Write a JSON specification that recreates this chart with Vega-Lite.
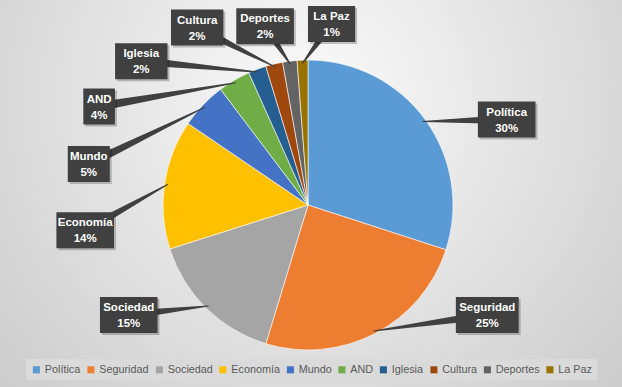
{
  "$schema": "https://vega.github.io/schema/vega-lite/v6.json",
  "width": 622,
  "height": 387,
  "padding": 0,
  "autosize": {"type": "none"},
  "background": "#d6d6d6",
  "config": {"view": {"stroke": null}},
  "data": {
    "values": [
      {"name": "Política", "value": 30.0},
      {"name": "Seguridad", "value": 24.7},
      {"name": "Sociedad", "value": 15.4},
      {"name": "Economía", "value": 14.4},
      {"name": "Mundo", "value": 5.2},
      {"name": "AND", "value": 3.6},
      {"name": "Iglesia", "value": 2.0},
      {"name": "Cultura", "value": 1.9},
      {"name": "Deportes", "value": 1.6},
      {"name": "La Paz", "value": 1.2}
    ]
  },
  "transform": [
    {"window": [{"op": "row_number", "as": "idx"}]},
    {"joinaggregate": [{"op": "sum", "field": "value", "as": "total"}]},
    {"window": [{"op": "sum", "field": "value", "as": "cum"}], "sort": [{"field": "idx"}]},
    {"calculate": "(datum.cum - datum.value) / datum.total", "as": "a0"},
    {"calculate": "datum.cum / datum.total", "as": "a1"},
    {"calculate": "datum.value < 10", "as": "small"},
    {"window": [{"op": "row_number", "as": "k"}], "groupby": ["small"], "sort": [{"field": "idx"}]},
    {"calculate": "2 * PI * (datum.cum - datum.value / 2) / datum.total", "as": "th"},
    {"calculate": "(datum.small ? 283 + 16.5 * (datum.k - 1) : min(datum.th * 180 / PI + 8, 262)) * PI / 180", "as": "phi"},
    {"calculate": "(datum.small && datum.k > 1 && datum.k < 5 ? 240 : 225) * sin(datum.phi)", "as": "X0"},
    {"calculate": "(datum.small && datum.k > 1 && datum.k < 5 ? 200 : 182) * cos(datum.phi)", "as": "Y0"},
    {"calculate": "clamp(datum.Y0, -110, 181)", "as": "ly"},
    {"calculate": "datum.ly == datum.Y0 ? datum.X0 : (datum.X0 < 0 ? -1 : 1) * 225 * sqrt(1 - pow(datum.ly / 182, 2))", "as": "lx"},
    {"calculate": "142 * sin(datum.th)", "as": "ex"},
    {"calculate": "142 * cos(datum.th)", "as": "ey"},
    {"calculate": "2.6 * length(datum.name) + 8", "as": "hw"},
    {"calculate": "datum.lx - datum.hw", "as": "bx1"},
    {"calculate": "datum.lx + datum.hw", "as": "bx2"},
    {"calculate": "datum.ly - 18", "as": "by1"},
    {"calculate": "datum.ly + 18", "as": "by2"},
    {"calculate": "datum.name + '\\n' + format(datum.value / 100, '.0%')", "as": "label"}
  ],
  "layer": [
    {
      "transform": [{"filter": "datum.idx == 1"}],
      "mark": {
        "type": "rect",
        "stroke": null,
        "fill": {
          "gradient": "radial",
          "x1": 0.5, "y1": 0.35, "r1": 0,
          "x2": 0.5, "y2": 0.35, "r2": 0.85,
          "stops": [
            {"offset": 0, "color": "#fbfbfb"},
            {"offset": 1, "color": "#c0c0c0"}
          ]
        }
      },
      "encoding": {}
    },
    {
      "mark": {"type": "arc", "outerRadius": 145, "stroke": "#ffffff", "strokeWidth": 0.6},
      "encoding": {
        "theta": {"field": "a0", "type": "quantitative", "stack": null, "scale": {"domain": [0, 1]}},
        "theta2": {"field": "a1"},
        "x": {"datum": 0, "type": "quantitative", "stack": null, "scale": {"domain": [-308, 314], "nice": false, "zero": false}, "axis": null},
        "y": {"datum": 0, "type": "quantitative", "stack": null, "scale": {"domain": [-182, 205], "nice": false, "zero": false}, "axis": null},
        "color": {
          "field": "name",
          "type": "nominal",
          "scale": {
            "domain": ["Política", "Seguridad", "Sociedad", "Economía", "Mundo", "AND", "Iglesia", "Cultura", "Deportes", "La Paz"],
            "range": ["#5B9BD5", "#ED7D31", "#A5A5A5", "#FFC000", "#4472C4", "#70AD47", "#255E91", "#9E480E", "#636363", "#997300"]
          },
          "legend": {
            "title": null,
            "orient": "none",
            "legendX": 26,
            "legendY": 359,
            "direction": "horizontal",
            "columns": 10,
            "symbolType": "square",
            "symbolSize": 50,
            "symbolStrokeWidth": 0,
            "labelFont": "Liberation Sans",
            "labelFontSize": 10.8,
            "labelColor": "#595959",
            "fillColor": "#dadada",
            "padding": 5,
            "columnPadding": 4.5,
            "labelOffset": 3
          }
        }
      }
    },
    {
      "transform": [
        {"fold": ["lx", "ex"], "as": ["end", "px"]},
        {"calculate": "datum.end == 'lx' ? datum.ly : datum.ey", "as": "py"},
        {"calculate": "datum.end == 'lx' ? 9 : 1", "as": "tw"}
      ],
      "mark": {"type": "trail", "color": "#404040"},
      "encoding": {
        "x": {"field": "px", "type": "quantitative", "scale": {"domain": [-308, 314], "nice": false, "zero": false}, "axis": null},
        "y": {"field": "py", "type": "quantitative", "scale": {"domain": [-182, 205], "nice": false, "zero": false}, "axis": null},
        "size": {"field": "tw", "type": "quantitative", "scale": null, "legend": null},
        "detail": {"field": "name", "type": "nominal"},
        "order": {"field": "end", "type": "nominal"}
      }
    },
    {
      "transform": [
        {"calculate": "datum.bx1 + 2", "as": "sx1"},
        {"calculate": "datum.bx2 + 2", "as": "sx2"},
        {"calculate": "datum.by1 - 2", "as": "sy1"},
        {"calculate": "datum.by2 - 2", "as": "sy2"}
      ],
      "mark": {"type": "rect", "color": "#000000", "opacity": 0.22},
      "encoding": {
        "x": {"field": "sx1", "type": "quantitative", "scale": {"domain": [-308, 314], "nice": false, "zero": false}, "axis": null},
        "x2": {"field": "sx2"},
        "y": {"field": "sy1", "type": "quantitative", "scale": {"domain": [-182, 205], "nice": false, "zero": false}, "axis": null},
        "y2": {"field": "sy2"}
      }
    },
    {
      "mark": {"type": "rect", "color": "#404040", "opacity": 1},
      "encoding": {
        "x": {"field": "bx1", "type": "quantitative", "scale": {"domain": [-308, 314], "nice": false, "zero": false}, "axis": null},
        "x2": {"field": "bx2"},
        "y": {"field": "by1", "type": "quantitative", "scale": {"domain": [-182, 205], "nice": false, "zero": false}, "axis": null},
        "y2": {"field": "by2"}
      }
    },
    {
      "mark": {"type": "text", "color": "#ffffff", "font": "Liberation Sans", "fontWeight": "bold", "fontSize": 11.5, "lineBreak": "\n", "lineHeight": 16, "baseline": "middle", "align": "center", "dy": -7},
      "encoding": {
        "x": {"field": "lx", "type": "quantitative", "scale": {"domain": [-308, 314], "nice": false, "zero": false}, "axis": null},
        "y": {"field": "ly", "type": "quantitative", "scale": {"domain": [-182, 205], "nice": false, "zero": false}, "axis": null},
        "text": {"field": "label", "type": "nominal"}
      }
    }
  ]
}
